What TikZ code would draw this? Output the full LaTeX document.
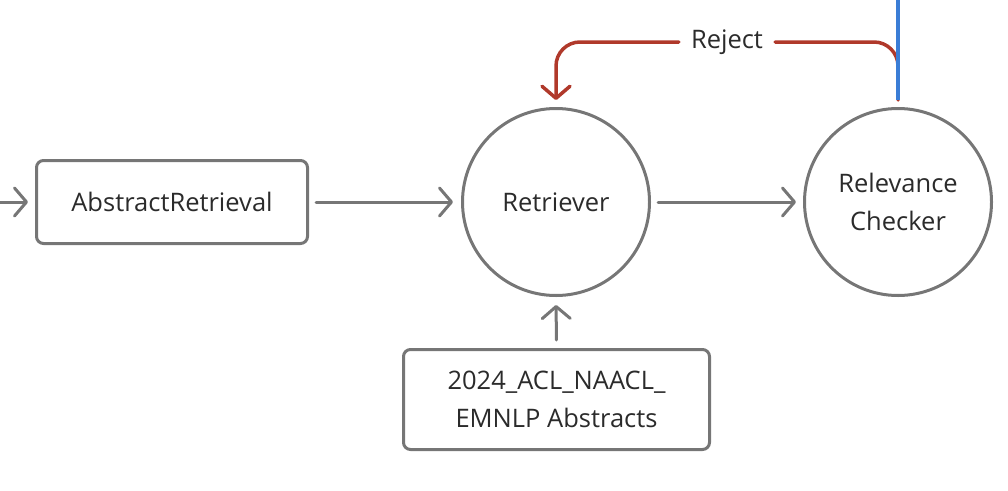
\documentclass[tikz,border=0pt]{standalone}
\usepackage{fontspec}
\setmainfont{Open Sans}
\usetikzlibrary{arrows.meta,calc}
\definecolor{edge}{HTML}{767676}
\definecolor{txt}{HTML}{2B2B2B}
\definecolor{rej}{HTML}{B0392B}
\definecolor{blu}{HTML}{3A7DD6}
\begin{document}
\begin{tikzpicture}[x=1pt,y=1pt,
  every node/.style={text=txt,font=\fontsize{25.5}{38}\selectfont},
  boxn/.style={draw=edge,line width=3pt,rounded corners=7pt,align=center,inner sep=0pt},
  circn/.style={draw=edge,line width=3pt,circle,minimum size=187pt,align=center,inner sep=0pt},
  conn/.style={draw=edge,line width=3pt,line cap=round,-{Straight Barb[length=12pt,width=28pt,line cap=round,line join=round]}},
  rejline/.style={draw=rej,line width=3.5pt,line cap=round,rounded corners=24pt},
  lbl/.style={inner xsep=12pt,inner ysep=4pt}]
\useasboundingbox (0,0) rectangle (1008,-490);
\node[boxn,minimum width=271pt,minimum height=83pt] (ar) at (172,-202) {AbstractRetrieval};
\node[circn] (ret) at (556,-202) {Retriever};
\node[circn] (rc) at (898,-202) {Relevance\\Checker};
\node[boxn,minimum width=306pt,minimum height=100pt] (ab) at (556.5,-399.5) {2024\_ACL\_NAACL\_\\EMNLP Abstracts};
\node[lbl] (rj) at (727,-42) {Reject};
\coordinate (in) at (0,-202);
\coordinate (tp) at (898,-100);
\coordinate (top) at (898,0);
\draw[conn,shorten >=7pt] (in) -- (ar.west);
\draw[conn,shorten <=7pt,shorten >=8pt] (ar.east) -- (ret.west);
\draw[conn,shorten <=7pt,shorten >=7pt] (ret.east) -- (rc.west);
\draw[conn,shorten <=8pt,shorten >=8pt] (ab.north) -- (ret.south);
\draw[rejline] (tp) -- (tp |- rj) -- (rj.east);
\draw[rejline,-{Straight Barb[length=12pt,width=28pt,line cap=round,line join=round]},shorten >=7pt] (rj.west) -- (ret.north |- rj) -- (ret.north);
\draw[blu,line width=3.5pt] (top) -- (tp);
\end{tikzpicture}
\end{document}
